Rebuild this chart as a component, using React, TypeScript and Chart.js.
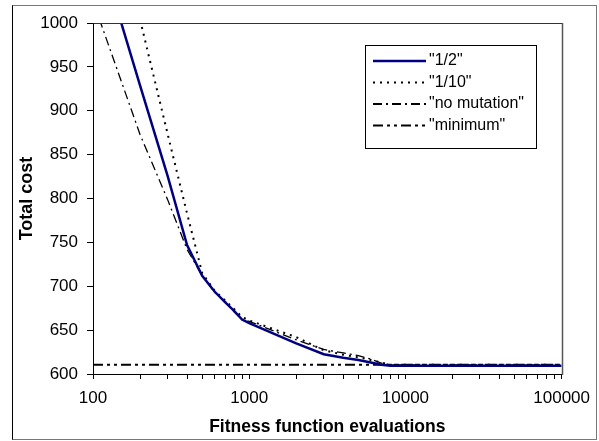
import React, { useEffect, useRef } from 'react';
import { Chart, registerables } from 'chart.js';

Chart.register(...registerables);

// ---- data ----
const EVALUATIONS = [100, 200, 300, 400, 500, 600, 700, 800, 900, 1000, 2000, 3000, 4000, 5000, 6000, 7000, 8000, 9000, 10000, 100000];
const HALF = [1107, 929, 826, 747, 712, 694, 682, 672, 662, 658, 635, 622.5, 618.5, 616, 613, 610.5, 609.5, 609.5, 609.5, 609.5];
const TENTH = [1220, 1004, 874, 783, 715, 695, 684, 674, 665, 661, 642, 627, 622, 619, 616, 613, 610.5, 610.5, 610.5, 610.5];
const NO_MUTATION = [1025, 873, 799, 742, 712, 693, 683, 671, 662, 660, 639, 628, 624, 621, 617, 612.5, 610.5, 610.5, 610.5, 610.5];
const MINIMUM_EVALS = [100, 100000];
const MINIMUM = [610.5, 610.5];
const SERIES_LABELS = ['"1/2"', '"1/10"', '"no mutation"', '"minimum"'];
const X_DECADES = [100, 1000, 10000, 100000];
const X_TICK_LABELS = ['100', '1000', '10000', '100000'];
const Y_MIN = 600;
const Y_MAX = 1000;
const Y_STEP = 50;
const X_TITLE = 'Fitness function evaluations';
const Y_TITLE = 'Total cost';

const FONT = "'Liberation Sans', Arial, Helvetica, sans-serif";

const toPoints = (xs: number[], ys: number[]) => xs.map((x, i) => ({ x, y: ys[i] }));

const framePlugin = {
  id: 'frame',
  afterDraw(chart: any) {
    const ctx = chart.ctx;
    const { left, right, top, bottom } = chart.chartArea;
    ctx.save();
    // plot box top/right
    ctx.strokeStyle = '#333';
    ctx.lineWidth = 1;
    ctx.beginPath();
    ctx.moveTo(Math.round(left) + 0.5, Math.round(top) + 0.5);
    ctx.lineTo(Math.round(right) + 0.5, Math.round(top) + 0.5);
    ctx.stroke();
    ctx.strokeStyle = '#555';
    ctx.lineWidth = 1.5;
    ctx.beginPath();
    ctx.moveTo(Math.round(right) + 0.5, Math.round(top));
    ctx.lineTo(Math.round(right) + 0.5, Math.round(bottom) + 1);
    ctx.stroke();
    // outer border
    ctx.lineWidth = 1;
    ctx.strokeStyle = '#777';
    ctx.strokeRect(12.5, 5.5, 584, 434);
    ctx.strokeStyle = '#000';
    ctx.beginPath();
    ctx.moveTo(12.5, 5.5);
    ctx.lineTo(12.5, 439.5);
    ctx.stroke();

    // legend
    const bx = 365.5, by = 45.5, bw = 171, bh = 103;
    ctx.fillStyle = '#fff';
    ctx.fillRect(bx, by, bw, bh);
    ctx.strokeStyle = '#000';
    ctx.lineWidth = 1;
    ctx.strokeRect(bx, by, bw, bh);
    const rows = [61, 82.5, 104, 125.5];
    chart.data.datasets.forEach((ds: any, i: number) => {
      const y = rows[i];
      ctx.beginPath();
      ctx.setLineDash(ds.borderDash || []);
      ctx.strokeStyle = ds.borderColor;
      ctx.lineWidth = Math.max(ds.borderWidth, 2);
      ctx.moveTo(373, y);
      ctx.lineTo(426, y);
      ctx.stroke();
      ctx.setLineDash([]);
      ctx.fillStyle = '#000';
      ctx.font = `16px ${FONT}`;
      ctx.textBaseline = 'middle';
      ctx.textAlign = 'left';
      ctx.fillText(ds.label, 429, y);
    });
    ctx.restore();
  },
};

export default function App() {
  const ref = useRef<HTMLCanvasElement>(null);
  useEffect(() => {
    document.body.style.margin = '0';
    const xTicks: number[] = [];
    for (let d = 0; d < X_DECADES.length - 1; d++) {
      for (let m = 1; m <= 9; m++) xTicks.push(X_DECADES[d] * m);
    }
    xTicks.push(X_DECADES[X_DECADES.length - 1]);

    const chart = new Chart(ref.current as HTMLCanvasElement, {
      type: 'line',
      data: {
        datasets: [
          {
            label: SERIES_LABELS[0],
            data: toPoints(EVALUATIONS, HALF),
            borderColor: '#000080',
            borderWidth: 2.5,
            pointRadius: 0,
            tension: 0,
            clip: 0,
          },
          {
            label: SERIES_LABELS[1],
            data: toPoints(EVALUATIONS, TENTH),
            borderColor: '#000',
            borderWidth: 2,
            borderDash: [2, 5],
            pointRadius: 0,
            tension: 0,
            clip: 0,
          },
          {
            label: SERIES_LABELS[2],
            data: toPoints(EVALUATIONS, NO_MUTATION),
            borderColor: '#000',
            borderWidth: 1.3,
            borderDash: [9, 4, 2, 4],
            pointRadius: 0,
            tension: 0,
            clip: 0,
          },
          {
            label: SERIES_LABELS[3],
            data: toPoints(MINIMUM_EVALS, MINIMUM),
            borderColor: '#000',
            borderWidth: 2,
            borderDash: [10, 4, 3, 4, 3, 4],
            pointRadius: 0,
            tension: 0,
            clip: 0,
          },
        ] as any,
      },
      options: {
        responsive: false,
        animation: false,
        devicePixelRatio: 1,
        layout: { padding: { top: 23, right: 29, left: 0, bottom: 0 } },
        plugins: {
          legend: { display: false },
          tooltip: { enabled: false },
        },
        scales: {
          x: {
            type: 'logarithmic',
            min: 100,
            max: 100000,
            afterBuildTicks: (scale: any) => {
              scale.ticks = xTicks.map((v) => ({ value: v }));
            },
            afterFit: (scale: any) => {
              scale.height = 67;
            },
            ticks: {
              autoSkip: false,
              maxRotation: 0,
              minRotation: 0,
              padding: 9,
              color: '#000',
              font: { family: FONT, size: 17 },
              callback: (value: any) => {
                const idx = X_DECADES.indexOf(Number(value));
                return idx >= 0 ? X_TICK_LABELS[idx] : '';
              },
            },
            grid: {
              display: true,
              drawOnChartArea: false,
              drawTicks: true,
              tickLength: 5,
              color: '#000',
            },
            border: { display: true, color: '#000', width: 1 },
            title: {
              display: true,
              text: X_TITLE,
              color: '#000',
              font: { family: FONT, size: 17.5, weight: 'bold' },
              padding: { top: 0, bottom: 3 },
            },
          },
          y: {
            type: 'linear',
            min: Y_MIN,
            max: Y_MAX,
            afterFit: (scale: any) => {
              scale.width = 93;
            },
            ticks: {
              stepSize: Y_STEP,
              padding: 9,
              color: '#000',
              font: { family: FONT, size: 17 },
              callback: (value: any) => String(value),
            },
            grid: {
              display: true,
              drawOnChartArea: false,
              drawTicks: true,
              tickLength: 6,
              color: '#000',
            },
            border: { display: true, color: '#000', width: 1 },
            title: {
              display: true,
              text: Y_TITLE,
              color: '#000',
              font: { family: FONT, size: 18, weight: 'bold' },
              padding: { top: 16, bottom: 0 },
            },
          },
        },
      } as any,
      plugins: [framePlugin],
    });
    return () => chart.destroy();
  }, []);
  return (
    <div style={{ width: 599, height: 441 }}>
      <canvas ref={ref} width={599} height={441} style={{ display: 'block' }} />
    </div>
  );
}
